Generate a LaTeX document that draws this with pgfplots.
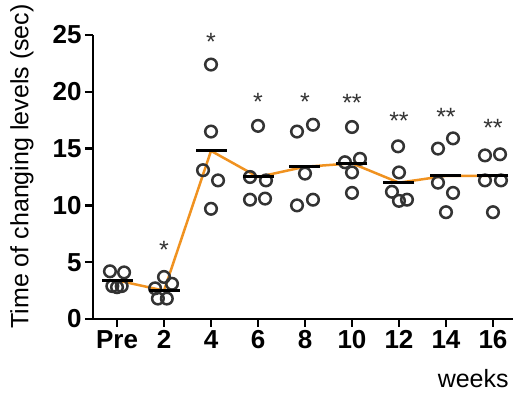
\documentclass[border=0pt]{standalone}
\usepackage{pgfplots}
\pgfplotsset{compat=1.18}
\usepackage{pgfplotstable}
\usepackage{fontspec}
\setmainfont{Liberation Sans}
\definecolor{orangeL}{RGB}{240,146,32}
\definecolor{dotc}{RGB}{51,51,51}
\pgfplotstableread{
x y
-0.15 4.2
0.15 4.1
-0.10 2.9
0.00 2.8
0.10 2.9
1.00 3.7
0.81 2.7
1.17 3.1
0.87 1.8
1.06 1.8
2.00 22.4
2.00 16.5
1.83 13.1
2.15 12.2
2.00 9.7
3.00 17.0
2.83 12.5
3.17 12.2
2.83 10.5
3.15 10.6
3.83 16.5
4.17 17.1
4.00 12.8
3.83 10.0
4.17 10.5
5.00 16.9
4.85 13.8
5.17 14.1
5.00 12.9
5.00 11.1
5.98 15.2
6.00 12.9
5.85 11.2
6.00 10.4
6.17 10.5
6.83 15.0
7.15 15.9
6.83 12.0
7.15 11.1
7.00 9.4
7.83 14.4
8.15 14.5
7.83 12.2
8.17 12.2
8.00 9.4
}\points
\pgfplotstableread{
x y
0 3.4
1 2.5
2 14.8
3 12.5
4 13.4
5 13.7
6 12.0
7 12.6
8 12.6
}\means
\pgfplotstableread{
x y m
1 6.1 *
2 24.4 *
3 19.1 *
4 19.1 *
5 19.0 **
6 17.4 **
7 17.8 **
8 16.8 **
}\stars
\begin{document}
\begin{tikzpicture}
\path[use as bounding box] (0,0) rectangle (515pt,393pt);
\begin{axis}[
  at={(93pt,74pt)}, anchor=south west,
  scale only axis, width=420pt, height=284pt,
  xmin=-0.511, xmax=8.426, ymin=0, ymax=25,
  axis lines=left,
  axis line style={-, line width=2.5pt, black},
  every tick/.style={black, line width=2.5pt},
  tick align=outside, major tick length=8pt,
  xtick={0,1,2,3,4,5,6,7,8},
  xticklabels={Pre,2,4,6,8,10,12,14,16},
  ytick={0,5,10,15,20,25},
  /pgf/number format/assume math mode=true,
  ticklabel style={font=\bfseries\fontsize{26}{30}\selectfont},
  ylabel={Time of changing levels (sec)},
  ylabel style={at={(axis description cs:-0.169,0.537)}, anchor=center, font=\fontsize{25}{30}\selectfont},
  xlabel={weeks},
  xlabel style={at={(axis description cs:0.998,-0.240)}, anchor=base east, font=\fontsize{25}{30}\selectfont},
  clip=false,
]
\addplot[only marks, mark=o, mark size=5.8pt, mark options={line width=2.5pt, draw=dotc}] table[x=x,y=y] {\points};
\addplot[orangeL, line width=2.5pt, mark=none] table[x=x,y=y] {\means};
\addplot[only marks, mark=-, mark size=15.5pt, mark options={line width=3pt, draw=black}] table[x=x,y=y] {\means};
\addplot[draw=none, mark=none, nodes near coords, point meta=explicit symbolic,
  nodes near coords style={anchor=center, inner sep=0pt, text=dotc, font=\fontsize{25}{28}\selectfont}] table[x=x,y=y,meta=m] {\stars};
\end{axis}
\end{tikzpicture}
\end{document}
